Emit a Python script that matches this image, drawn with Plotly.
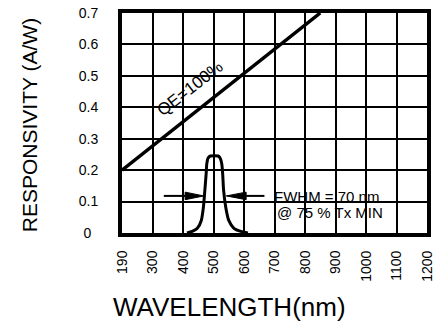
import numpy as np
import plotly.graph_objects as go

# Axis tick wavelengths (equally spaced on the chart, though 190->300 is a 110 nm step)
tick_wavelengths = [190, 300, 400, 500, 600, 700, 800, 900, 1000, 1100, 1200]
tick_labels = [str(t) for t in tick_wavelengths]
y_ticks = [0, 0.1, 0.2, 0.3, 0.4, 0.5, 0.6, 0.7]
y_tick_labels = ["0\u2002", "0.1", "0.2", "0.3", "0.4", "0.5", "0.6", "0.7"]

# QE = 100% reference line
qe_wavelength = [190, 850]
qe_resp = [0.2, 0.7]

# Filter transmission (responsivity) curve
filter_wavelength = [413, 430, 447, 460, 467, 472, 476, 478, 482, 490,
                     515, 522, 527, 530, 533, 540, 550, 567, 590, 613]
filter_resp = [0.0, 0.005, 0.015, 0.04, 0.083, 0.14, 0.19, 0.22, 0.238, 0.245,
               0.245, 0.238, 0.22, 0.19, 0.137, 0.083, 0.04, 0.015, 0.005, 0.0]

# FWHM marker arrows (wavelength of tail, base of head, tip) at a fixed level
fwhm_level = 0.118
left_arrow = [337, 407, 468]
right_arrow = [667, 607, 542]
head_half = 0.012


def pos(wl):
    return np.interp(wl, tick_wavelengths, list(range(len(tick_wavelengths))))


fig = go.Figure()

fig.add_trace(go.Scatter(x=pos(qe_wavelength), y=qe_resp, mode="lines",
                         line=dict(color="black", width=3.5), hoverinfo="skip"))
fig.add_trace(go.Scatter(x=pos(filter_wavelength), y=filter_resp, mode="lines",
                         line=dict(color="black", width=3, shape="spline", smoothing=0.6),
                         hoverinfo="skip"))

for arr in (left_arrow, right_arrow):
    tail, base, tip = arr
    fig.add_trace(go.Scatter(x=pos([tail, base]), y=[fwhm_level, fwhm_level], mode="lines",
                             line=dict(color="black", width=2), hoverinfo="skip"))
    fig.add_trace(go.Scatter(x=pos([base, base, tip, base]),
                             y=[fwhm_level - head_half, fwhm_level + head_half, fwhm_level, fwhm_level - head_half],
                             mode="lines", fill="toself", fillcolor="black",
                             line=dict(color="black", width=1), hoverinfo="skip"))

font_family = "Liberation Sans, Arial, sans-serif"

fig.add_annotation(x=float(pos(423)), y=0.46, text="QE=100%", showarrow=False,
                   textangle=-38, font=dict(family=font_family, size=17, color="black"))
fig.add_annotation(x=float(pos(692)), y=0.115, text="FWHM = 70 nm", showarrow=False,
                   xanchor="left", font=dict(family=font_family, size=15, color="black"))
fig.add_annotation(x=float(pos(702)), y=0.066, text="@ 75 % Tx MIN", showarrow=False,
                   xanchor="left", font=dict(family=font_family, size=15, color="black"))

# Axis titles placed as paper annotations (offset like the original)
fig.add_annotation(xref="paper", yref="paper", x=-0.305, y=0.49, text="RESPONSIVITY (A/W)",
                   showarrow=False, textangle=-90, xanchor="center", yanchor="middle",
                   font=dict(family=font_family, size=21, color="black"))
fig.add_annotation(xref="paper", yref="paper", x=0.352, y=-0.335, text="WAVELENGTH(nm)",
                   showarrow=False, xanchor="center", yanchor="middle",
                   font=dict(family=font_family, size=26, color="black"))

fig.update_layout(
    width=445, height=321,
    margin=dict(l=122, r=18, t=13, b=88),
    paper_bgcolor="white", plot_bgcolor="white",
    showlegend=False,
    font=dict(family=font_family, color="black"),
)
fig.update_xaxes(
    range=[0, 10], tickmode="array", tickvals=list(range(len(tick_wavelengths))),
    ticktext=tick_labels, tickangle=-90, tickfont=dict(size=14),
    showgrid=True, gridcolor="black", gridwidth=2,
    showline=True, linecolor="black", linewidth=4, mirror=True,
    zeroline=False, ticks="", ticklabelstandoff=8, automargin=False,
)
fig.update_yaxes(
    range=[0, 0.7], tickmode="array", tickvals=y_ticks, ticktext=y_tick_labels,
    tickfont=dict(size=14),
    showgrid=True, gridcolor="black", gridwidth=2,
    showline=True, linecolor="black", linewidth=4, mirror=True,
    zeroline=False, ticks="", ticklabelstandoff=17, automargin=False,
)

fig.write_html("out.html", config={"displayModeBar": False},
               post_script="document.body.style.margin='0';")
